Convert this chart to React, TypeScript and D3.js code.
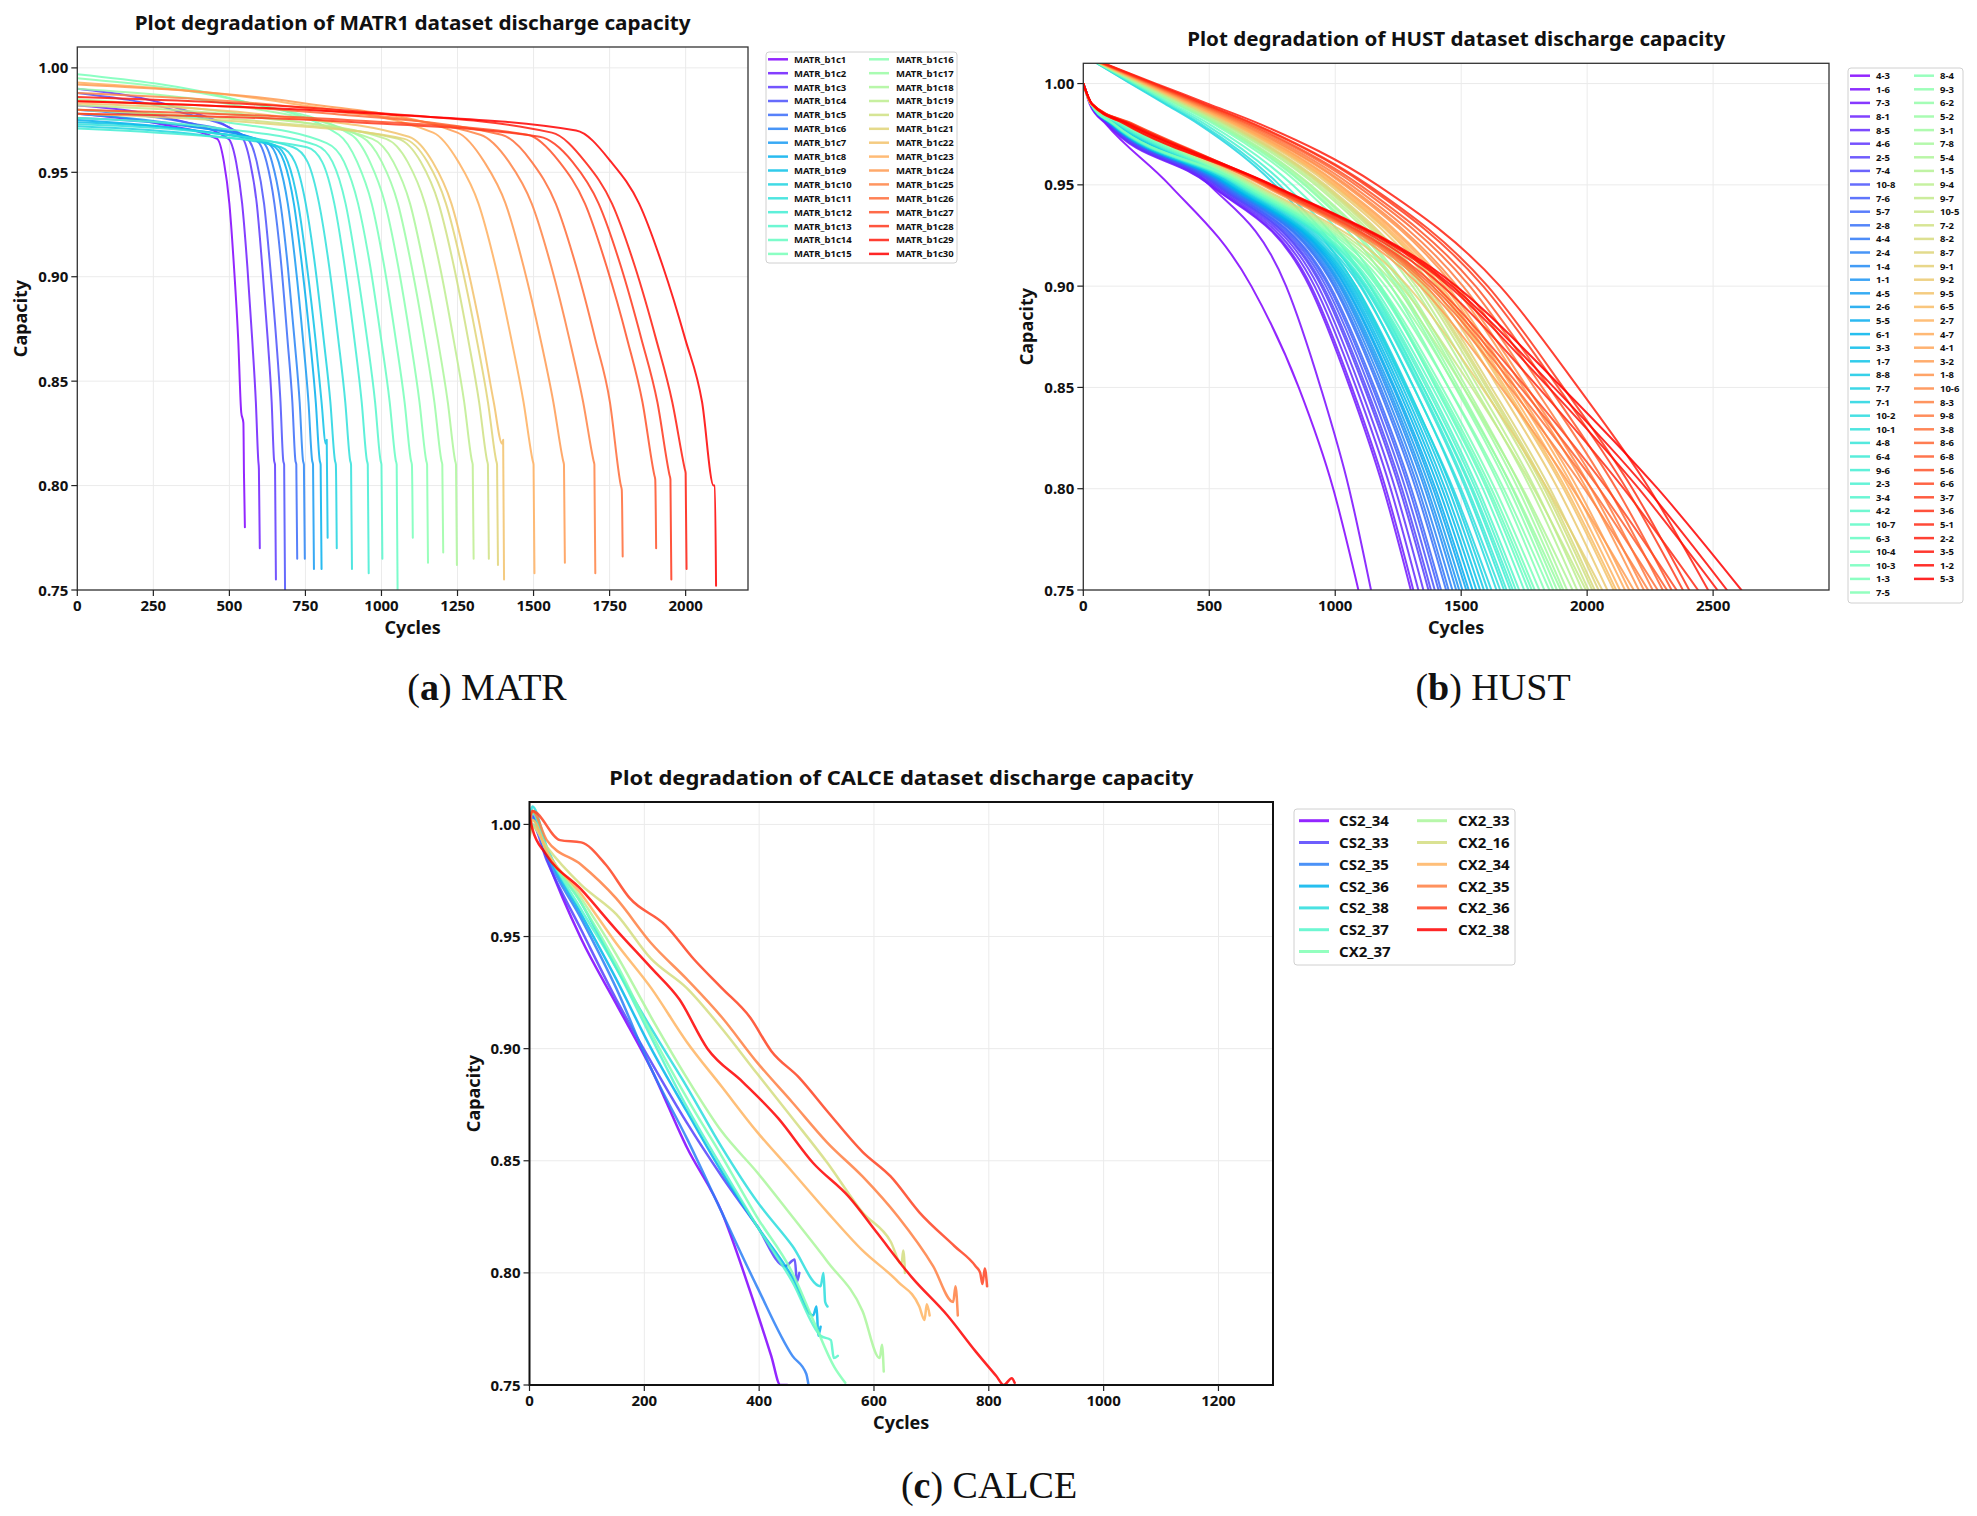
import * as d3 from "d3";

type Pt = [number, number];

const W = 1977;
const H = 1516;
const SANS = "'Noto Sans', 'DejaVu Sans', sans-serif";
const SERIF = "'Liberation Serif', 'DejaVu Serif', serif";

// ---------- MATR ----------
const MATR_NAMES = [
  "MATR_b1c1", "MATR_b1c2", "MATR_b1c3", "MATR_b1c4", "MATR_b1c5", "MATR_b1c6",
  "MATR_b1c7", "MATR_b1c8", "MATR_b1c9", "MATR_b1c10", "MATR_b1c11", "MATR_b1c12",
  "MATR_b1c13", "MATR_b1c14", "MATR_b1c15", "MATR_b1c16", "MATR_b1c17", "MATR_b1c18",
  "MATR_b1c19", "MATR_b1c20", "MATR_b1c21", "MATR_b1c22", "MATR_b1c23", "MATR_b1c24",
  "MATR_b1c25", "MATR_b1c26", "MATR_b1c27", "MATR_b1c28", "MATR_b1c29", "MATR_b1c30"
];

// [cycle, capacity]
const MATR_CURVES: Pt[][] = [
  [[0,.978],[276,.973],[460,.966],[482,.955],[500,.935],[515,.905],[529,.87],[539,.835],[546,.83],[548,.805],[551,.78]],
  [[0,.982],[298,.976],[497,.966],[522,.955],[542,.935],[559,.905],[575,.87],[587,.84],[595,.812],[597,.808],[600,.77]],
  [[0,.99],[324,.981],[540,.967],[568,.955],[590,.935],[608,.905],[626,.87],[639,.84],[647,.812],[650,.81],[653,.755]],
  [[0,.988],[336,.979],[560,.966],[590,.955],[614,.935],[634,.905],[654,.87],[668,.84],[677,.812],[680,.81],[683,.75]],
  [[0,.98],[354,.974],[590,.965],[622,.955],[648,.935],[671,.905],[691,.87],[707,.84],[717,.812],[720,.81],[723,.765]],
  [[0,.976],[363,.972],[605,.965],[640,.955],[668,.935],[692,.905],[714,.87],[731,.84],[742,.812],[745,.81],[748,.765]],
  [[0,.978],[375,.972],[625,.964],[662,.955],[692,.935],[718,.905],[742,.87],[760,.84],[772,.812],[775,.81],[778,.76]],
  [[0,.975],[384,.97],[640,.963],[680,.955],[712,.935],[739,.905],[765,.87],[784,.84],[797,.812],[800,.81],[803,.76]],
  [[0,.974],[390,.97],[650,.963],[692,.955],[726,.935],[755,.905],[783,.87],[803,.84],[817,.82],[820,.822],[823,.775]],
  [[0,.972],[402,.968],[670,.962],[715,.955],[751,.935],[782,.905],[810,.87],[832,.84],[847,.812],[850,.81],[853,.77]],
  [[0,.973],[426,.969],[710,.962],[757,.955],[795,.935],[828,.905],[858,.87],[881,.84],[897,.812],[900,.81],[903,.76]],
  [[0,.971],[453,.967],[755,.962],[805,.955],[845,.935],[879,.905],[911,.87],[935,.84],[952,.812],[955,.81],[958,.758]],
  [[0,.976],[471,.971],[785,.963],[839,.955],[882,.935],[918,.905],[953,.87],[979,.84],[997,.812],[1000,.81],[1003,.765]],
  [[0,.98],[492,.974],[820,.964],[877,.955],[923,.935],[963,.905],[999,.87],[1027,.84],[1047,.812],[1050,.81],[1053,.75]],
  [[0,.997],[516,.985],[860,.968],[920,.955],[968,.935],[1009,.905],[1047,.87],[1076,.84],[1097,.812],[1100,.81],[1103,.775]],
  [[0,.995],[540,.984],[900,.968],[962,.955],[1012,.935],[1055,.905],[1095,.87],[1125,.84],[1147,.812],[1150,.81],[1153,.763]],
  [[0,.99],[561,.981],[935,.967],[1001,.955],[1054,.935],[1099,.905],[1142,.87],[1174,.84],[1197,.812],[1200,.81],[1203,.768]],
  [[0,.985],[582,.977],[970,.966],[1039,.955],[1094,.935],[1140,.905],[1185,.87],[1218,.84],[1242,.812],[1245,.81],[1248,.762]],
  [[0,.982],[609,.976],[1015,.966],[1086,.955],[1143,.935],[1192,.905],[1237,.87],[1272,.84],[1297,.812],[1300,.81],[1303,.765]],
  [[0,.98],[633,.974],[1055,.966],[1129,.955],[1188,.935],[1238,.905],[1285,.87],[1321,.84],[1347,.812],[1350,.81],[1353,.765]],
  [[0,.978],[645,.973],[1075,.966],[1151,.955],[1212,.935],[1264,.905],[1313,.87],[1350,.84],[1377,.812],[1380,.81],[1383,.762]],
  [[0,.983],[654,.977],[1090,.967],[1168,.955],[1230,.935],[1282,.905],[1332,.87],[1369,.84],[1397,.82],[1400,.822],[1403,.755]],
  [[0,.993],[702,.983],[1170,.969],[1253,.955],[1319,.935],[1375,.905],[1427,.87],[1467,.84],[1497,.812],[1500,.81],[1503,.758]],
  [[0,.992],[750,.983],[1250,.969],[1338,.955],[1408,.935],[1467,.905],[1523,.87],[1565,.84],[1597,.812],[1600,.81],[1603,.763]],
  [[0,.988],[795,.98],[1325,.968],[1419,.955],[1494,.935],[1558,.905],[1618,.87],[1663,.84],[1697,.812],[1700,.81],[1703,.758]],
  [[0,.984],[837,.978],[1395,.968],[1494,.955],[1573,.935],[1640,.905],[1703,.87],[1751,.84],[1787,.8],[1790,.798],[1793,.766]],
  [[0,.98],[888,.975],[1480,.968],[1585,.955],[1669,.935],[1740,.905],[1808,.87],[1858,.84],[1897,.805],[1900,.803],[1903,.77]],
  [[0,.978],[912,.974],[1520,.967],[1628,.955],[1714,.935],[1787,.905],[1855,.87],[1907,.84],[1947,.805],[1950,.803],[1953,.755]],
  [[0,.986],[936,.979],[1560,.969],[1670,.955],[1758,.935],[1833,.905],[1903,.87],[1956,.84],[1997,.808],[2000,.806],[2003,.76]],
  [[0,.984],[984,.978],[1640,.97],[1755,.955],[1847,.935],[1925,.905],[1999,.87],[2054,.84],[2092,.8],[2096,.8],[2100,.752]]
];

// ---------- HUST ----------
const HUST_NAMES = [
  "4-3", "1-6", "7-3", "8-1", "8-5", "4-6", "2-5", "7-4", "10-8", "7-6", "5-7", "2-8", "4-4",
  "2-4", "1-4", "1-1", "4-5", "2-6", "5-5", "6-1", "3-3", "1-7", "8-8", "7-7", "7-1", "10-2",
  "10-1", "4-8", "6-4", "9-6", "2-3", "3-4", "4-2", "10-7", "6-3", "10-4", "10-3", "1-3", "7-5",
  "8-4", "9-3", "6-2", "5-2", "3-1", "7-8", "5-4", "1-5", "9-4", "9-7", "10-5", "7-2", "8-2",
  "8-7", "9-1", "9-2", "9-5", "6-5", "2-7", "4-7", "4-1", "3-2", "1-8", "10-6", "8-3", "9-8",
  "3-8", "8-6", "6-8", "5-6", "6-6", "3-7", "3-6", "5-1", "2-2", "3-5", "1-2", "5-3"
];

// capacity levels and the cycle at which each cell crosses them
const HUST_LEVELS = [1.0, 0.99, 0.98, 0.95, 0.9, 0.85, 0.8, 0.75];
const HUST_START_HIGH = 1.014; // cells that start above the top of the axis
const HUST_CROSSINGS: number[][] = [
  [0,25,90,342,667,855,992,1092],
  [0,30,110,500,805,942,1055,1142],
  [0,28,95,502,897,1058,1192,1300],
  [0,28,98,506,904,1066,1201,1310],
  [0,30,104,513,918,1083,1220,1330],
  [0,30,100,521,932,1099,1238,1350],
  [0,30,108,529,945,1115,1256,1370],
  [0,30,112,533,952,1123,1265,1380],
  [0,30,105,538,963,1136,1279,1395],
  [0,30,115,544,973,1148,1293,1410],
  [0,30,110,548,980,1156,1302,1420],
  [0,30,118,556,994,1172,1320,1440],
  [0,30,110,560,1000,1180,1330,1450],
  [0,30,111,564,1008,1191,1342,1465],
  [0,30,120,567,1017,1202,1356,1480],
  [0,30,111,570,1023,1210,1365,1492],
  [0,30,125,573,1029,1219,1377,1505],
  [0,30,112,578,1038,1230,1389,1520],
  [0,30,128,580,1043,1236,1398,1530],
  [0,30,113,584,1051,1247,1411,1545],
  [0,30,130,588,1058,1257,1424,1560],
  [0,30,114,591,1066,1268,1436,1575],
  [0,30,132,595,1073,1278,1450,1590],
  [0,30,115,599,1082,1287,1462,1605],
  [188,324,458,761,1081,1283,1468,1620],
  [0,30,135,607,1099,1312,1492,1640],
  [192,331,468,778,1104,1311,1499,1655],
  [0,30,117,613,1114,1333,1518,1670],
  [0,30,140,615,1119,1339,1525,1680],
  [0,30,118,619,1125,1349,1539,1695],
  [198,341,483,801,1137,1350,1545,1705],
  [0,30,145,623,1137,1363,1557,1717],
  [0,30,119,626,1142,1372,1567,1730],
  [0,30,150,632,1152,1386,1586,1750],
  [205,353,500,830,1179,1399,1601,1767],
  [0,30,121,637,1166,1404,1609,1780],
  [0,30,155,640,1172,1412,1620,1792],
  [0,30,122,643,1180,1424,1634,1810],
  [212,366,518,860,1221,1449,1658,1830],
  [0,30,160,651,1199,1450,1669,1850],
  [216,373,528,877,1244,1477,1690,1865],
  [218,376,532,884,1254,1489,1703,1880],
  [0,30,165,659,1219,1480,1706,1895],
  [221,381,539,895,1271,1509,1726,1905],
  [223,384,543,902,1281,1521,1740,1920],
  [0,30,170,668,1239,1509,1744,1942],
  [227,392,555,921,1307,1552,1776,1960],
  [230,396,560,931,1321,1568,1794,1980],
  [0,30,175,678,1261,1542,1788,1995],
  [233,401,567,942,1337,1588,1817,2005],
  [234,404,572,949,1347,1600,1830,2020],
  [235,406,574,954,1354,1608,1839,2030],
  [237,409,579,961,1364,1620,1853,2045],
  [0,30,180,688,1288,1582,1842,2060],
  [241,416,589,978,1387,1647,1884,2080],
  [244,421,596,989,1404,1667,1907,2105],
  [245,423,599,994,1411,1675,1916,2115],
  [247,426,603,1001,1421,1687,1930,2130],
  [249,430,608,1011,1434,1703,1948,2150],
  [251,433,613,1018,1445,1716,1963,2167],
  [0,32,185,708,1337,1658,1942,2185],
  [256,441,624,1036,1471,1746,1998,2205],
  [258,445,630,1046,1484,1762,2016,2225],
  [0,32,190,715,1359,1693,1989,2242],
  [262,452,640,1062,1507,1790,2048,2260],
  [0,32,195,718,1373,1715,2018,2280],
  [267,460,651,1081,1534,1822,2084,2300],
  [0,32,170,723,1386,1735,2048,2317],
  [271,467,661,1097,1557,1849,2116,2335],
  [0,34,200,728,1399,1757,2079,2355],
  [276,476,674,1119,1587,1885,2156,2380],
  [280,480,680,1130,1605,1905,2180,2405],
  [0,34,175,737,1427,1806,2145,2440],
  [288,496,702,1166,1654,1964,2247,2480],
  [0,34,190,743,1452,1847,2205,2517],
  [0,34,165,746,1464,1868,2236,2555],
  [0,35,180,750,1480,1900,2280,2612]
];

// ---------- CALCE ----------
const CALCE_NAMES = [
  "CS2_34", "CS2_33", "CS2_35", "CS2_36", "CS2_38", "CS2_37", "CX2_37",
  "CX2_33", "CX2_16", "CX2_34", "CX2_35", "CX2_36", "CX2_38"
];

const CALCE_CURVES: Pt[][] = [
  [[0,.998],[4,1.004],[30,.985],[90,.949],[151,.92],[212,.891],[274,.856],[335,.827],[384,.792],[421,.763],[437,.75],[449,.75]],
  [[0,.995],[5,1.0],[30,.984],[90,.953],[151,.922],[212,.894],[274,.867],[335,.843],[396,.821],[445,.803],[462,.806],[466,.796],[470,.8]],
  [[0,.997],[5,1.003],[30,.986],[90,.958],[151,.927],[212,.891],[274,.86],[335,.827],[396,.794],[458,.763],[482,.755],[486,.75]],
  [[0,.998],[4,1.006],[30,.988],[90,.96],[151,.931],[212,.9],[274,.872],[335,.845],[396,.821],[458,.798],[494,.781],[500,.785],[503,.772],[507,.776]],
  [[0,1.0],[5,1.008],[30,.99],[90,.965],[151,.936],[212,.909],[274,.883],[335,.856],[396,.832],[458,.812],[507,.794],[512,.8],[515,.787],[519,.785]],
  [[0,.999],[5,1.005],[30,.989],[90,.962],[151,.936],[212,.905],[274,.874],[335,.847],[396,.821],[458,.796],[507,.772],[525,.77],[530,.762],[537,.763]],
  [[0,.997],[5,1.002],[30,.988],[90,.965],[151,.938],[212,.907],[274,.878],[335,.852],[396,.825],[458,.8],[494,.779],[531,.758],[550,.751]],
  [[0,.996],[5,1.0],[30,.988],[90,.967],[151,.942],[212,.914],[274,.887],[335,.863],[396,.845],[458,.825],[519,.805],[580,.783],[610,.762],[614,.768],[617,.756]],
  [[0,.994],[5,.999],[30,.99],[90,.973],[151,.96],[212,.94],[274,.927],[335,.909],[396,.889],[458,.869],[519,.849],[580,.827],[629,.814],[648,.804],[651,.81],[654,.8]],
  [[0,.996],[5,1.002],[30,.988],[90,.969],[151,.947],[212,.927],[274,.903],[335,.883],[396,.863],[458,.845],[519,.827],[580,.81],[642,.796],[679,.785],[688,.779],[692,.786],[697,.781]],
  [[0,.999],[5,1.006],[30,.993],[90,.982],[151,.967],[212,.947],[274,.931],[335,.914],[396,.894],[458,.876],[519,.858],[580,.843],[642,.825],[703,.803],[738,.787],[742,.794],[746,.781]],
  [[0,1.002],[5,1.006],[53,.993],[90,.992],[133,.982],[175,.967],[237,.955],[286,.94],[335,.927],[384,.914],[421,.899],[470,.887],[519,.872],[580,.854],[629,.843],[679,.827],[740,.812],[777,.803],[785,.8],[789,.795],[793,.802],[797,.794]],
  [[0,1.004],[5,.998],[28,.987],[90,.971],[151,.953],[212,.936],[261,.922],[310,.9],[372,.885],[433,.869],[494,.849],[556,.834],[605,.818],[666,.798],[728,.781],[777,.765],[813,.754],[826,.75],[840,.753],[845,.751]]
];

const Y_TICKS = [0.75, 0.8, 0.85, 0.9, 0.95, 1.0];
const MATR_X_TICKS = [0, 250, 500, 750, 1000, 1250, 1500, 1750, 2000];
const HUST_X_TICKS = [0, 500, 1000, 1500, 2000, 2500];
const CALCE_X_TICKS = [0, 200, 400, 600, 800, 1000, 1200];

// matplotlib "rainbow" colormap
const rainbow = (t: number) => {
  const r = Math.min(1, Math.abs(2 * t - 0.5));
  const g = Math.sin(t * Math.PI);
  const b = Math.cos((t * Math.PI) / 2);
  return d3.rgb(r * 255, g * 255, b * 255).formatHex();
};
const palette = (n: number) => d3.range(n).map((i) => rainbow(i / (n - 1)));

// HUST crossings -> points
const hustSeries: Pt[][] = HUST_CROSSINGS.map((row) => {
  const pts: Pt[] = row.map((c, k) => [c, HUST_LEVELS[k]] as Pt);
  if (row[0] > 0) pts.unshift([0, HUST_START_HIGH]);
  return pts;
});

interface Box { left: number; right: number; top: number; bottom: number }
interface LegendCfg {
  x: number; y: number; w: number; h: number;
  rows: number; firstY: number; rowH: number;
  lineX: number[]; lineLen: number; textX: number[]; fontSize: number;
}
interface PanelProps {
  id: string;
  box: Box;
  xMax: number;
  xTicks: number[];
  series: Pt[][];
  names: string[];
  title: string;
  titleLen: number;
  lineW: number;
  spineW: number;
  spineColor: string;
  legend: LegendCfg;
}

function Panel(p: PanelProps) {
  const { left, right, top, bottom } = p.box;
  const x = d3.scaleLinear().domain([0, p.xMax]).range([left, right]);
  const y = d3.scaleLinear().domain([0.75, 1.01]).range([bottom, top]);
  const line = d3.line<Pt>().x((d) => x(d[0])).y((d) => y(d[1])).curve(d3.curveMonotoneX);
  const colors = palette(p.series.length);
  const lg = p.legend;
  const cx = (left + right) / 2;
  const cy = (top + bottom) / 2;

  return (
    <g>
      <defs>
        <clipPath id={p.id}>
          <rect x={left} y={top} width={right - left} height={bottom - top} />
        </clipPath>
      </defs>
      {/* grid */}
      {p.xTicks.map((t) => (
        <line key={"gx" + t} x1={x(t)} x2={x(t)} y1={top} y2={bottom} stroke="#ebebeb" strokeWidth={1} />
      ))}
      {Y_TICKS.map((t) => (
        <line key={"gy" + t} x1={left} x2={right} y1={y(t)} y2={y(t)} stroke="#ebebeb" strokeWidth={1} />
      ))}
      {/* curves */}
      <g clipPath={`url(#${p.id})`}>
        {p.series.map((s, i) => (
          <path key={i} d={line(s) ?? ""} fill="none" stroke={colors[i]} strokeOpacity={0.85}
            strokeWidth={p.lineW} strokeLinejoin="round" strokeLinecap="round" />
        ))}
      </g>
      <rect x={left} y={top} width={right - left} height={bottom - top} fill="none"
        stroke={p.spineColor} strokeWidth={p.spineW} />
      {/* x axis */}
      {p.xTicks.map((t) => (
        <g key={"tx" + t}>
          <line x1={x(t)} x2={x(t)} y1={bottom} y2={bottom + 6} stroke="#222" strokeWidth={1.2} />
          <text x={x(t)} y={bottom + 21} textAnchor="middle" fontFamily={SANS} fontWeight={700}
            fontSize={15} fill="#111">{t}</text>
        </g>
      ))}
      {/* y axis */}
      {Y_TICKS.map((t) => (
        <g key={"ty" + t}>
          <line x1={left - 6} x2={left} y1={y(t)} y2={y(t)} stroke="#222" strokeWidth={1.2} />
          <text x={left - 9} y={y(t) + 5.5} textAnchor="end" fontFamily={SANS} fontWeight={700}
            fontSize={15} fill="#111">{t.toFixed(2)}</text>
        </g>
      ))}
      <text x={cx} y={bottom + 44} textAnchor="middle" fontFamily={SANS} fontWeight={700}
        fontSize={18} fill="#111">Cycles</text>
      <text transform={`translate(${left - 50},${cy}) rotate(-90)`} textAnchor="middle"
        fontFamily={SANS} fontWeight={700} fontSize={18} fill="#111">Capacity</text>
      <text x={cx} y={top - 17} textAnchor="middle" fontFamily={SANS} fontWeight={700}
        fontSize={20} fill="#111" textLength={p.titleLen} lengthAdjust="spacingAndGlyphs">{p.title}</text>
      {/* legend */}
      <rect x={lg.x} y={lg.y} width={lg.w} height={lg.h} rx={3} fill="#fff" fillOpacity={0.8}
        stroke="#d0d0d0" strokeWidth={1} />
      {p.names.map((name, i) => {
        const col = Math.floor(i / lg.rows);
        const ry = lg.firstY + (i % lg.rows) * lg.rowH;
        return (
          <g key={name}>
            <line x1={lg.lineX[col]} x2={lg.lineX[col] + lg.lineLen} y1={ry} y2={ry}
              stroke={colors[i]} strokeOpacity={0.85} strokeWidth={p.lineW + 0.5} />
            <text x={lg.textX[col]} y={ry + lg.fontSize * 0.36} fontFamily={SANS} fontWeight={700}
              fontSize={lg.fontSize} fill="#111">{name}</text>
          </g>
        );
      })}
    </g>
  );
}

function Caption({ x, y, letter, name }: { x: number; y: number; letter: string; name: string }) {
  return (
    <text x={x} y={y} textAnchor="middle" fontFamily={SERIF} fontSize={38} fill="#111">
      (<tspan fontWeight={700}>{letter}</tspan>) {name}
    </text>
  );
}

export default function App() {
  return (
    <div style={{ position: "absolute", left: 0, top: 0, background: "#fff" }}>
      <svg width={W} height={H} viewBox={`0 0 ${W} ${H}`} style={{ display: "block" }}>
        <rect width={W} height={H} fill="#fff" />
        <Panel
          id="clip-matr"
          box={{ left: 77.3, right: 748, top: 47, bottom: 590 }}
          xMax={2205}
          xTicks={MATR_X_TICKS}
          series={MATR_CURVES}
          names={MATR_NAMES}
          title="Plot degradation of MATR1 dataset discharge capacity"
          titleLen={556}
          lineW={2}
          spineW={1.3}
          spineColor="#333"
          legend={{ x: 766, y: 52, w: 191, h: 211, rows: 15, firstY: 59.3, rowH: 13.9,
            lineX: [768, 869], lineLen: 20, textX: [794, 896], fontSize: 9.5 }}
        />
        <Panel
          id="clip-hust"
          box={{ left: 1083.3, right: 1829, top: 63.3, bottom: 590 }}
          xMax={2960}
          xTicks={HUST_X_TICKS}
          series={hustSeries}
          names={HUST_NAMES}
          title="Plot degradation of HUST dataset discharge capacity"
          titleLen={538}
          lineW={2}
          spineW={1.3}
          spineColor="#333"
          legend={{ x: 1848, y: 68, w: 115, h: 535, rows: 39, firstY: 75.7, rowH: 13.6,
            lineX: [1850, 1914], lineLen: 20, textX: [1876, 1940], fontSize: 9.5 }}
        />
        <Panel
          id="clip-calce"
          box={{ left: 529.5, right: 1273, top: 802, bottom: 1385 }}
          xMax={1295}
          xTicks={CALCE_X_TICKS}
          series={CALCE_CURVES}
          names={CALCE_NAMES}
          title="Plot degradation of CALCE dataset discharge capacity"
          titleLen={584}
          lineW={2.5}
          spineW={2}
          spineColor="#111"
          legend={{ x: 1294, y: 809, w: 221, h: 156, rows: 7, firstY: 820.7, rowH: 21.8,
            lineX: [1299, 1417], lineLen: 30, textX: [1339, 1458], fontSize: 15 }}
        />
        <Caption x={487} y={700} letter="a" name="MATR" />
        <Caption x={1493} y={700} letter="b" name="HUST" />
        <Caption x={989} y={1498} letter="c" name="CALCE" />
      </svg>
    </div>
  );
}
